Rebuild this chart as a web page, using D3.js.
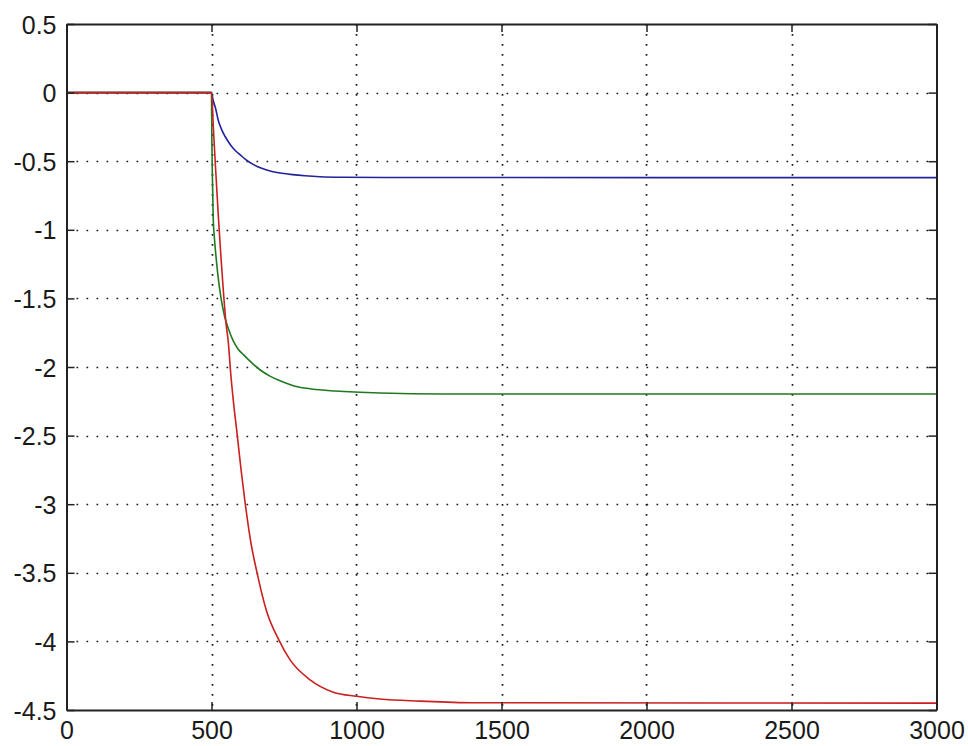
<!DOCTYPE html>
<html>
<head>
<meta charset="utf-8">
<script src="https://cdn.jsdelivr.net/npm/d3@7/dist/d3.min.js"></script>
<style>
  html, body { margin: 0; padding: 0; background: #ffffff; }
  svg { display: block; }
  .tick text { font-family: "Liberation Sans", Arial, sans-serif; font-size: 25px; fill: #1a1a1a; }
</style>
</head>
<body>
<svg id="chart" width="968" height="746"></svg>
<script>
// Axis ticks
const xTicks = [0, 500, 1000, 1500, 2000, 2500, 3000];
const yTicks = [0.5, 0, -0.5, -1, -1.5, -2, -2.5, -3, -3.5, -4, -4.5];

// Series 1 (blue)
const blueT = [0, 500, 505, 514, 523, 535, 547, 565, 581, 600, 616, 645, 673, 705, 742, 780, 822, 874, 950, 1100, 3000];
const blueV = [0, 0, -0.05, -0.114, -0.2, -0.27, -0.32, -0.38, -0.42, -0.455, -0.484, -0.525, -0.552, -0.573, -0.588, -0.598, -0.606, -0.613, -0.617, -0.619, -0.62];

// Series 2 (green)
const greenT = [0, 500, 501, 503, 506, 510, 514, 521, 533, 545, 558, 575, 592, 610, 639, 667, 700, 736, 788, 845, 926, 1081, 1300, 3000];
const greenV = [0, 0, -0.3, -0.6, -0.92, -1.06, -1.16, -1.31, -1.50, -1.63, -1.72, -1.81, -1.87, -1.91, -1.97, -2.02, -2.065, -2.10, -2.14, -2.16, -2.175, -2.19, -2.197, -2.197];

// Series 3 (red)
const redT = [0, 500, 507, 514, 523, 532, 541, 550, 558, 566, 575, 589, 602, 616, 635, 656, 690, 730, 771, 840, 920, 1000, 1081, 1219, 1400, 3000];
const redV = [0, 0, -0.28, -0.55, -0.88, -1.18, -1.45, -1.68, -1.82, -2.04, -2.24, -2.50, -2.75, -2.99, -3.27, -3.49, -3.78, -3.98, -4.135, -4.28, -4.37, -4.40, -4.42, -4.435, -4.447, -4.45];

const series = [
  { t: blueT, v: blueV, color: "#22229c" },
  { t: greenT, v: greenV, color: "#1f7a1f" },
  { t: redT, v: redV, color: "#cc1f1f" }
];

const plotLeft = 66.5, plotRight = 936.5, plotTop = 24, plotBottom = 710;

const x = d3.scaleLinear().domain([0, 3000]).range([plotLeft, plotRight]);
const y = d3.scaleLinear().domain([-4.5, 0.5]).range([plotBottom, plotTop]);

const svg = d3.select("#chart");

// Dotted grid
const grid = svg.append("g").attr("stroke", "#1a1a1a").attr("stroke-width", 1.7)
  .attr("stroke-dasharray", "1.7,8.3").attr("fill", "none");
grid.selectAll("line.gx").data(xTicks.slice(1, -1)).enter().append("line")
  .attr("x1", d => Math.round(x(d)) + 0.5).attr("x2", d => Math.round(x(d)) + 0.5)
  .attr("y1", plotTop).attr("y2", plotBottom);
grid.selectAll("line.gy").data(yTicks.slice(1, -1)).enter().append("line")
  .attr("y1", d => Math.round(y(d)) + 0.5).attr("y2", d => Math.round(y(d)) + 0.5)
  .attr("x1", plotLeft).attr("x2", plotRight);

// Data lines
const line = d3.line().x(d => x(d[0])).y(d => y(d[1])).curve(d3.curveMonotoneX);
series.forEach(s => {
  const pts = s.t.map((t, i) => [t, s.v[i]]);
  svg.append("path").datum(pts)
    .attr("d", line)
    .attr("fill", "none")
    .attr("stroke", s.color)
    .attr("stroke-width", 1.6)
    .attr("stroke-linejoin", "round");
});

// Axes with inward ticks on all four sides
const axisColor = "#222";
const tickLen = 8;
const fmt = d => String(d);

const gBottom = svg.append("g").attr("transform", `translate(0,${plotBottom})`)
  .call(d3.axisBottom(x).tickValues(xTicks).tickSizeInner(-tickLen).tickSizeOuter(0).tickPadding(11).tickFormat(fmt));
const gTop = svg.append("g").attr("transform", `translate(0,${plotTop})`)
  .call(d3.axisTop(x).tickValues(xTicks).tickSizeInner(-tickLen).tickSizeOuter(0).tickFormat(""));
const gLeft = svg.append("g").attr("transform", `translate(${plotLeft},0)`)
  .call(d3.axisLeft(y).tickValues(yTicks).tickSizeInner(-tickLen).tickSizeOuter(0).tickPadding(10).tickFormat(fmt));
const gRight = svg.append("g").attr("transform", `translate(${plotRight},0)`)
  .call(d3.axisRight(y).tickValues(yTicks).tickSizeInner(-tickLen).tickSizeOuter(0).tickFormat(""));

[gBottom, gTop, gLeft, gRight].forEach(g => {
  g.select(".domain").attr("stroke", axisColor).attr("stroke-width", 2);
  g.selectAll(".tick line").attr("stroke", axisColor).attr("stroke-width", 1.5);
});
gBottom.selectAll(".tick text").attr("dy", "0.71em");
gLeft.selectAll(".tick text").attr("dy", "0.36em");
</script>
</body>
</html>
